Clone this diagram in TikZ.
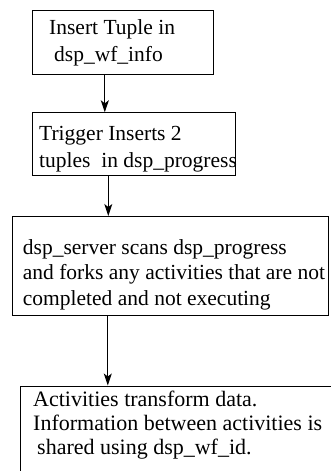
\documentclass[tikz,border=0pt]{standalone}
\usepackage{fontspec}
\setmainfont{Liberation Serif}
\usetikzlibrary{arrows.meta}
\begin{document}
\begin{tikzpicture}[x=1pt,y=-1pt,
  box/.style={draw,line width=1.1pt,rectangle,inner sep=0pt,anchor=north west},
  txt/.style={anchor=base west,inner sep=0pt,font=\fontsize{21.5}{26}\selectfont},
  txtb/.style={txt,font=\fontsize{22}{24}\selectfont},
  flow/.style={line width=1pt,-{Stealth[length=12pt,width=8pt,inset=3pt]}}]
  % page frame; the last box runs off its right and bottom edges
  \clip (0,0) rectangle (331,471);
  % process boxes
  \node[box,minimum width=180.7pt,minimum height=64.5pt] (b1) at (32.3,9.5) {};
  \node[box,minimum width=202.2pt,minimum height=62.7pt] (b2) at (32.3,112.3) {};
  \node[box,minimum width=316.5pt,minimum height=99pt] (b3) at (11.5,216) {};
  \node[box,minimum width=420pt,minimum height=140pt] (b4) at (19.8,385.5) {};
  % box texts
  \node[txt] (t11) at (49,34.7) {Insert Tuple in};
  \node[txt] (t12) at (54,61.7) {dsp\_wf\_info};
  \node[txt] (t21) at (39,140) {Trigger Inserts 2};
  \node[txt] (t22) at (39,167) {tuples\ \ in dsp\_progress};
  \node[txt] (t31) at (22.7,254.3) {dsp\_server scans dsp\_progress};
  \node[txt] (t32) at (22.7,279.8) {and forks any activities that are not};
  \node[txt] (t33) at (22.7,305.3) {completed and not executing};
  \node[txtb] (t41) at (33,406) {Activities transform data.};
  \node[txtb] (t42) at (33,430) {Information between activities is};
  \node[txtb] (t43) at (37,454) {shared using dsp\_wf\_id.};
  % connector columns
  \coordinate (c1) at (104.8,0);
  \coordinate (c2) at (108.3,0);
  \coordinate (c3) at (107.8,0);
  \draw[flow] (b1.south -| c1) -- (b2.north -| c1);
  \draw[flow] (b2.south -| c2) -- (b3.north -| c2);
  \draw[flow] (b3.south -| c3) -- (b4.north -| c3);
\end{tikzpicture}
\end{document}
